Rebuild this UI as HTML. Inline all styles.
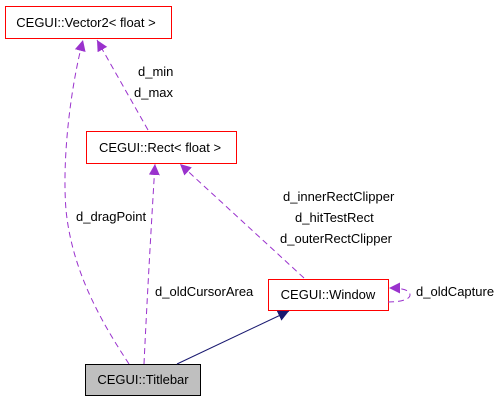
<!DOCTYPE html>
<html><head><meta charset="utf-8"><style>html,body{margin:0;padding:0;background:#fff;width:499px;height:403px;overflow:hidden}</style></head>
<body>
<svg width="499" height="403" viewBox="0 0 499 403" xmlns="http://www.w3.org/2000/svg" font-family="Liberation Sans, sans-serif" font-size="13">
<defs>
<marker id="p" markerWidth="12" markerHeight="12" refX="11" refY="5.5" orient="auto" markerUnits="userSpaceOnUse"><path d="M0,0 L11,5.5 L0,11 z" fill="#9a32cd"/></marker>
<marker id="n" markerWidth="12" markerHeight="12" refX="11" refY="5.5" orient="auto" markerUnits="userSpaceOnUse"><path d="M0,0 L11,5.5 L0,11 z" fill="#191970"/></marker>
</defs>
<rect x="5.5" y="6.5" width="166" height="32" fill="#fff" stroke="#ff0000"/>
<text x="86" y="27" text-anchor="middle">CEGUI::Vector2&lt; float &gt;</text>
<rect x="86.5" y="131.5" width="150" height="32" fill="#fff" stroke="#ff0000"/>
<text x="160" y="152" text-anchor="middle">CEGUI::Rect&lt; float &gt;</text>
<rect x="268.5" y="279.5" width="120" height="31" fill="#fff" stroke="#ff0000"/>
<text x="328" y="299" text-anchor="middle">CEGUI::Window</text>
<rect x="85.5" y="364.5" width="115" height="31" fill="#bfbfbf" stroke="#000"/>
<text x="143" y="384" text-anchor="middle">CEGUI::Titlebar</text>
<g fill="none" stroke="#9a32cd" stroke-dasharray="6,4">
<path d="M129,364 C100,320 72,270 66,210 C62,160 70,90 83,40" marker-end="url(#p)"/>
<path d="M148,130 L97,40" marker-end="url(#p)"/>
<path d="M144,364 C147,300 151,230 155,164" marker-end="url(#p)"/>
<path d="M304,278 L180,164" marker-end="url(#p)"/>
<path d="M388,302 C402,302 410,299 410,295 C410,290 402,288 389,288" marker-end="url(#p)"/>
</g>
<path d="M177,364 L289,311" stroke="#191970" fill="none" marker-end="url(#n)"/>
<text x="138" y="76">d_min</text>
<text x="134" y="97">d_max</text>
<text x="76" y="221">d_dragPoint</text>
<text x="155" y="296">d_oldCursorArea</text>
<text x="283" y="201">d_innerRectClipper</text>
<text x="295" y="222">d_hitTestRect</text>
<text x="280" y="243">d_outerRectClipper</text>
<text x="416" y="296">d_oldCapture</text>
</svg>
</body></html>
